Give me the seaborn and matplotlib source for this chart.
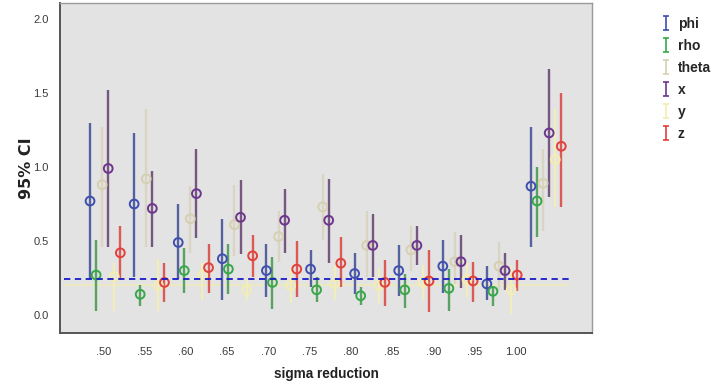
import numpy as np
import pandas as pd
import matplotlib
matplotlib.use("Agg")
import matplotlib.pyplot as plt
from matplotlib.path import Path
from matplotlib.lines import Line2D
import seaborn as sns

# sigma reduction levels (categorical axis)
sigma_labels = [".50", ".55", ".60", ".65", ".70", ".75", ".80", ".85", ".90", ".95", "1.00"]
series = ["phi", "rho", "theta", "x", "y", "z"]

# point estimates and 95% CI bounds per series
phi_mean = [0.77, 0.75, 0.49, 0.38, 0.30, 0.31, 0.28, 0.30, 0.33, 0.21, 0.87]
phi_low  = [0.24, 0.26, 0.24, 0.10, 0.12, 0.19, 0.14, 0.13, 0.15, 0.10, 0.46]
phi_high = [1.30, 1.23, 0.75, 0.65, 0.48, 0.44, 0.42, 0.47, 0.51, 0.33, 1.27]

rho_mean = [0.27, 0.14, 0.30, 0.31, 0.22, 0.17, 0.13, 0.17, 0.18, 0.16, 0.77]
rho_low  = [0.03, 0.06, 0.15, 0.14, 0.04, 0.09, 0.07, 0.05, 0.03, 0.06, 0.53]
rho_high = [0.51, 0.20, 0.45, 0.48, 0.39, 0.26, 0.19, 0.28, 0.31, 0.19, 1.00]

theta_mean = [0.88, 0.92, 0.65, 0.61, 0.53, 0.73, 0.47, 0.44, 0.36, 0.33, 0.89]
theta_low  = [0.46, 0.46, 0.42, 0.40, 0.36, 0.51, 0.26, 0.30, 0.21, 0.17, 0.57]
theta_high = [1.27, 1.39, 0.87, 0.88, 0.70, 0.95, 0.70, 0.60, 0.56, 0.49, 1.12]

x_mean = [0.99, 0.72, 0.82, 0.66, 0.64, 0.64, 0.47, 0.47, 0.36, 0.30, 1.23]
x_low  = [0.46, 0.46, 0.52, 0.41, 0.42, 0.35, 0.26, 0.34, 0.18, 0.17, 0.80]
x_high = [1.52, 0.97, 1.12, 0.91, 0.85, 0.92, 0.68, 0.60, 0.54, 0.42, 1.66]

y_mean = [0.26, 0.20, 0.27, 0.17, 0.20, 0.21, 0.20, 0.22, 0.24, 0.17, 1.05]
y_low  = [0.03, 0.03, 0.10, 0.10, 0.08, 0.10, 0.08, 0.10, 0.12, 0.01, 0.73]
y_high = [0.35, 0.38, 0.35, 0.24, 0.32, 0.33, 0.31, 0.34, 0.36, 0.33, 1.39]

z_mean = [0.42, 0.22, 0.32, 0.40, 0.31, 0.35, 0.22, 0.23, 0.23, 0.27, 1.14]
z_low  = [0.24, 0.09, 0.15, 0.26, 0.12, 0.19, 0.06, 0.02, 0.09, 0.16, 0.73]
z_high = [0.60, 0.35, 0.48, 0.54, 0.50, 0.53, 0.37, 0.44, 0.36, 0.37, 1.50]

reference_level = 0.24
yellow_level = 0.20

means = dict(phi=phi_mean, rho=rho_mean, theta=theta_mean, x=x_mean, y=y_mean, z=z_mean)
lows = dict(phi=phi_low, rho=rho_low, theta=theta_low, x=x_low, y=y_low, z=z_low)
highs = dict(phi=phi_high, rho=rho_high, theta=theta_high, x=x_high, y=y_high, z=z_high)

marker_colors = {"phi": "#3f4fae", "rho": "#37a84a", "theta": "#d6d0b0",
                 "x": "#6e3590", "y": "#f2edb2", "z": "#e2403c"}
line_colors = {"phi": "#56629f", "rho": "#58a262", "theta": "#d9d5c2",
               "x": "#74587e", "y": "#f1edbd", "z": "#dc5a55"}

# long-form table, with each series dodged within its sigma group
dodge_step = 0.1374
rows = []
for k, name in enumerate(series):
    for g, lab in enumerate(sigma_labels):
        rows.append(dict(sigma=lab, series=name, group=g,
                         pos=g + (k - 2.5) * dodge_step,
                         mean=means[name][g], low=lows[name][g], high=highs[name][g]))
df = pd.DataFrame(rows)

sns.set_theme(style="white")
plt.rcParams["font.family"] = ["Liberation Sans", "DejaVu Sans"]

fig = plt.figure(figsize=(7.14, 3.83), dpi=100)
ax = fig.add_axes([60 / 714, 1 - 333 / 383, 532 / 714, 330 / 383])
ax.set_facecolor("#e3e3e3")

# reference lines
ax.hlines(yellow_level, -0.93, 10.52, colors="#f1edae", lw=1.2, alpha=0.8, zorder=1)
ax.hlines(reference_level, -0.93, 10.52, colors="#1a1ac4", lw=1.3,
          linestyles=(0, (3.5, 2.5)), zorder=4)

for name in series:
    sub = df[df["series"] == name]
    ax.vlines(sub["pos"], sub["low"], sub["high"], colors=line_colors[name],
              lw=1.7, zorder=2)
    sns.scatterplot(data=sub, x="pos", y="mean", ax=ax, marker="o", s=40,
                    facecolor="none", edgecolor=marker_colors[name],
                    linewidth=1.4, zorder=3, legend=False)

ax.set_xlim(-1.025, 11.04)
ax.set_ylim(-0.1216, 2.108)

tick_start, tick_step = -0.043, 0.9358
ax.set_xticks(tick_start + tick_step * np.arange(len(sigma_labels)), sigma_labels)
ax.set_yticks([0.0, 0.5, 1.0, 1.5, 2.0], ["0.0", "0.5", "1.0", "1.5", "2.0"])
ax.tick_params(axis="both", direction="out", length=5, width=1, color="#555555",
               labelsize=8, labelcolor="#3a3a3a", pad=3)
ax.tick_params(axis="x", pad=5)

for side in ["left", "bottom"]:
    ax.spines[side].set_color("#555555")
    ax.spines[side].set_linewidth(1.4)
for side in ["top", "right"]:
    ax.spines[side].set_color("#9a9a9a")
    ax.spines[side].set_linewidth(1.0)

ax.set_xlabel("sigma reduction", fontsize=9.8, fontweight="bold", color="#222222", labelpad=7)
ax.set_ylabel("95% CI", fontsize=11.5, fontweight="bold", color="#222222", labelpad=0,
              family=["DejaVu Sans"])

# legend with I-bar glyphs
ibar = Path([(-0.4, 1), (0.4, 1), (0, 1), (0, -1), (-0.4, -1), (0.4, -1)],
            [Path.MOVETO, Path.LINETO, Path.MOVETO, Path.LINETO, Path.MOVETO, Path.LINETO])
handles = [Line2D([], [], linestyle="none", marker=ibar, markersize=9.5,
                  markeredgewidth=1.2, markeredgecolor=marker_colors[n],
                  markerfacecolor="none") for n in series]
fig.legend(handles, series, loc="upper left", bbox_to_anchor=(653 / 714, 1 - 11 / 383),
           frameon=False, handlelength=1.0, handletextpad=0.4, labelspacing=0.58,
           borderaxespad=0, prop=dict(weight="bold", size=10))

fig.savefig("out.png", dpi=100)
